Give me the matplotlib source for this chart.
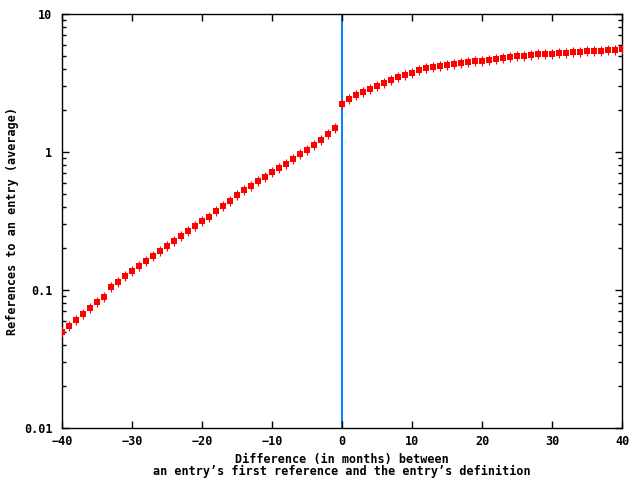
import numpy as np
import matplotlib
matplotlib.use("Agg")
import matplotlib.pyplot as plt
from matplotlib.ticker import FixedLocator, LogLocator, NullFormatter, FixedFormatter

# Difference in months (x) and average references (y)
months = list(range(-40, 41))
avg_refs = [
    0.0494, 0.0546, 0.0603, 0.0667, 0.0736, 0.0814, 0.0885, 0.1047, 0.1138, 0.1257,
    0.1366, 0.1485, 0.1614, 0.1755, 0.1906, 0.2073, 0.2254, 0.2450, 0.2663, 0.2896,
    0.3148, 0.3365, 0.3718, 0.4042, 0.4395, 0.4856, 0.528, 0.564, 0.613, 0.659,
    0.713, 0.762, 0.814, 0.885, 0.962, 1.03, 1.12, 1.22, 1.35, 1.49,
    2.23, 2.41, 2.58, 2.71, 2.85, 3.01, 3.16, 3.31, 3.49, 3.59,
    3.74, 3.91, 4.06, 4.11, 4.18, 4.25, 4.32, 4.39, 4.47, 4.54,
    4.56, 4.62, 4.69, 4.80, 4.88, 4.94, 4.96, 5.05, 5.10, 5.12,
    5.12, 5.22, 5.22, 5.27, 5.29, 5.37, 5.37, 5.37, 5.46, 5.46,
    5.57,
]

x_ticks = [-40, -30, -20, -10, 0, 10, 20, 30, 40]
y_ticks = [0.01, 0.1, 1, 10]
y_tick_labels = ["0.01", "0.1", "1", "10"]

font = dict(family="DejaVu Sans Mono", weight="bold", size=8.5)

fig = plt.figure(figsize=(6.4, 4.8), dpi=100)
ax = fig.add_axes([62 / 640, 52 / 480, 560 / 640, 414 / 480])

# vertical line at the definition date
ax.axvline(0, color="#0080ff", linewidth=1.4, zorder=1)

# gnuplot-like points: filled box with small vertical stubs
ax.plot(months, avg_refs, linestyle="none", marker="s", markersize=4,
        color="#ff0000", markeredgewidth=0, zorder=3)
ax.plot(months, avg_refs, linestyle="none", marker="|", markersize=6.5,
        color="#ff0000", markeredgewidth=0.8, zorder=3)

ax.set_yscale("log")
ax.set_xlim(-40, 40)
ax.set_ylim(0.01, 10)

ax.xaxis.set_major_locator(FixedLocator(x_ticks))
ax.yaxis.set_major_locator(FixedLocator(y_ticks))
ax.yaxis.set_major_formatter(FixedFormatter(y_tick_labels))
ax.yaxis.set_minor_locator(LogLocator(base=10, subs=np.arange(2, 10)))
ax.yaxis.set_minor_formatter(NullFormatter())

ax.tick_params(axis="both", which="major", direction="in", length=5, width=1,
               top=True, right=True, labelsize=8.5)
ax.tick_params(axis="x", which="major", pad=5)
ax.tick_params(axis="y", which="major", pad=7)
ax.tick_params(axis="both", which="minor", direction="in", length=3, width=1,
               top=True, right=True)
for lbl in ax.get_xticklabels() + ax.get_yticklabels():
    lbl.set_fontfamily("DejaVu Sans Mono")
    lbl.set_fontweight("bold")

for sp in ax.spines.values():
    sp.set_linewidth(1.0)
    sp.set_color("black")

ax.set_xlabel("Difference (in months) between\nan entry\u2019s first reference and the entry\u2019s definition",
              fontdict=font, linespacing=0.95)
ax.xaxis.set_label_coords(0.5, -0.06, transform=ax.transAxes)
ax.xaxis.label.set_verticalalignment("top")
ax.set_ylabel("References to an entry (average)", fontdict=font)
ax.yaxis.set_label_coords(-0.0886, 0.5)
ax.yaxis.label.set_verticalalignment("center")

fig.savefig("out.png", dpi=100)
